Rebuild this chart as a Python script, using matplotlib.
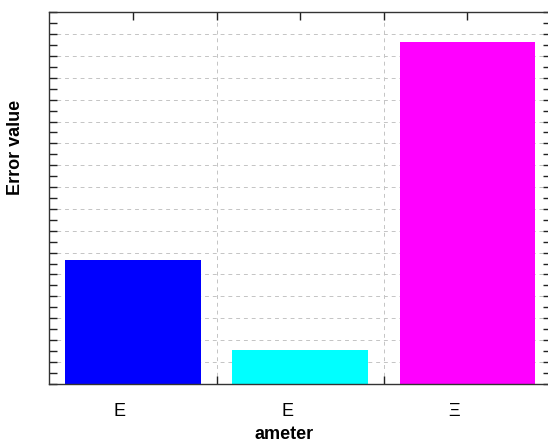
import matplotlib
matplotlib.use("Agg")
import matplotlib.pyplot as plt
from matplotlib.ticker import MultipleLocator, FixedLocator, NullFormatter
from matplotlib.transforms import ScaledTranslation

plt.rcParams["font.family"] = ["Liberation Sans", "DejaVu Sans"]

# data
categories = ["E", "E", "Ξ"]
positions = [1, 2, 3]
error_values = [5.66, 1.54, 15.62]
bar_colors = ["#0000ff", "#00ffff", "#ff00ff"]

fig = plt.figure(figsize=(5.48, 4.44), dpi=100)
ax = fig.add_axes([0.0901, 0.1358, 0.9153, 0.8365])

ax.bar(positions, error_values, width=0.81, color=bar_colors, edgecolor="none", zorder=2)

ax.set_xlim(0.5, 3.5)
ax.set_ylim(0, 17)

# x: category ticks at bars, grid at the gaps between them
ax.set_xticks(positions)
ax.set_xticklabels(categories, fontsize=13)
ax.xaxis.set_minor_locator(FixedLocator([1.5, 2.5]))
ax.grid(True, which="minor", axis="x", color="#c4c4c4", linestyle=(0, (4, 4)), linewidth=0.7, zorder=0)

# y: no labels, gridlines on the majors
ax.yaxis.set_major_locator(MultipleLocator(1))
ax.yaxis.set_minor_locator(MultipleLocator(0.5))
ax.yaxis.set_major_formatter(NullFormatter())
ax.grid(True, which="major", axis="y", color="#c4c4c4", linestyle=(0, (4, 4)), linewidth=0.7, zorder=0)

ax.tick_params(which="both", direction="in", top=True, right=True, length=5.5,
               width=1.0, color="#222222")
ax.tick_params(axis="x", which="major", pad=14)

# labels sit a bit left of their ticks in the reference
for lab in ax.get_xticklabels():
    lab.set_transform(lab.get_transform() + ScaledTranslation(-13 / 100, 0, fig.dpi_scale_trans))

for sp in ax.spines.values():
    sp.set_color("#333333")
    sp.set_linewidth(1.0)

fig.text(16 / 548, 1 - 147 / 444, "Error value", rotation=90, ha="center", va="center",
         fontsize=13, fontweight="bold")
fig.text(284 / 548, 1 - 434 / 444, "ameter", ha="center", va="center",
         fontsize=13, fontweight="bold")

fig.savefig("out.png", dpi=100)
